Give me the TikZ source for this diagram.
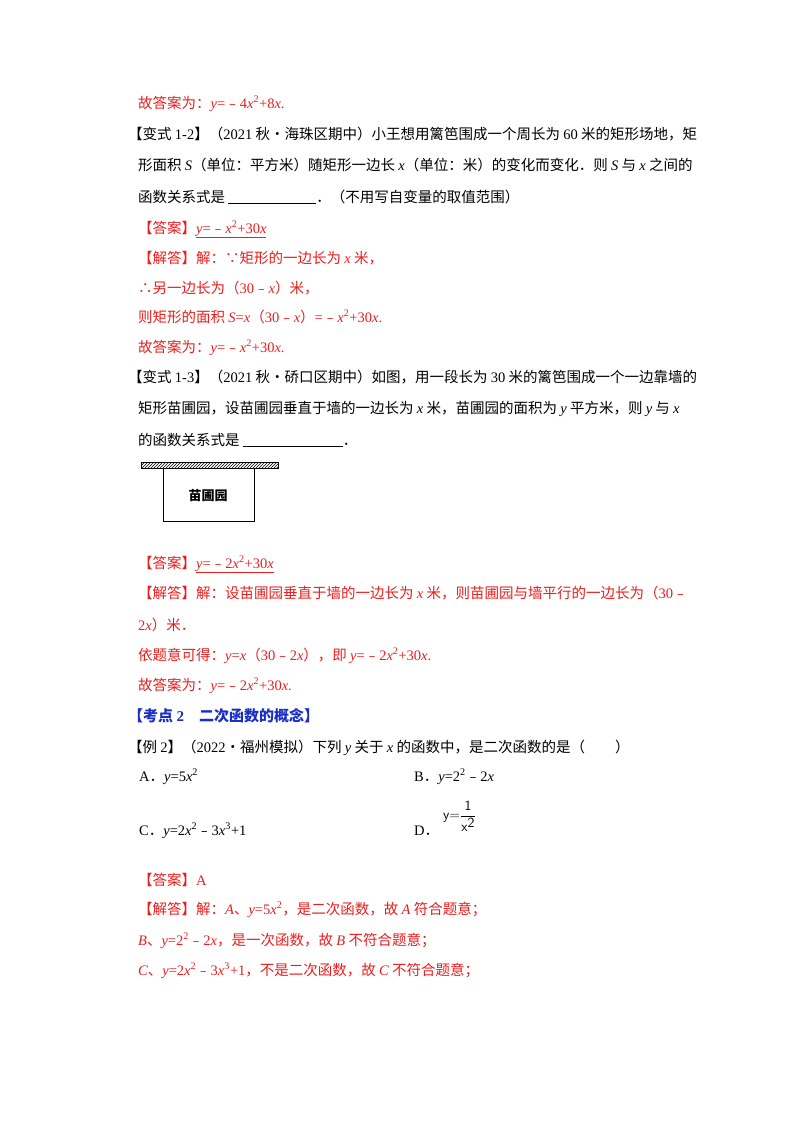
\documentclass[tikz,border=0pt]{standalone}
\usepackage{fontspec}
\setmainfont{Noto Sans CJK SC}
\newfontfamily\sr{Liberation Serif}
\usetikzlibrary{patterns}
\newcommand\iv[1]{{\sr\itshape #1}}
\newcommand\nm[1]{{\sr #1}}
\newcommand\ms{{\rmfamily ﹣}}
\newcommand\sq{\textsuperscript{\sr 2}}
\newcommand\cb{\textsuperscript{\sr 3}}
\definecolor{ans}{RGB}{235,30,30}
\definecolor{hd}{RGB}{25,45,200}
\begin{document}
\begin{tikzpicture}[x=1pt,y=-1pt,
  t/.style={anchor=base west,inner sep=0pt,font=\fontsize{14.5}{17}\selectfont},
  r/.style={t,text=ans}]
\useasboundingbox (0,0) rectangle (800,1132);
\fill[white] (0,0) rectangle (800,1132);
\node[r] (l1) at (138,108) {故答案为：\iv{y}\nm{=}\ms\nm{4}\iv{x}\sq\nm{+8}\iv{x}\nm{.}};
\node[t] (l2) at (128,139) {【变式 \nm{1-2}】（\nm{2021} 秋•海珠区期中）小王想用篱笆围成一个周长为 \nm{60} 米的矩形场地，矩};
\node[t] (l3) at (138,170) {形面积 \iv{S}（单位：平方米）随矩形一边长 \iv{x}（单位：米）的变化而变化．则 \iv{S} 与 \iv{x} 之间的};
\node[t] (l4) at (138,202) {函数关系式是 \underline{\hspace{88pt}}．（不用写自变量的取值范围）};
\node[r] (l5) at (138,233) {【答案】\underline{\iv{y}\nm{=}\ms\iv{x}\sq\nm{+30}\iv{x}}};
\node[r] (l6) at (138,263) {【解答】解：∵矩形的一边长为 \iv{x} 米，};
\node[r] (l7) at (138,293) {∴另一边长为（\nm{30}\ms\iv{x}）米，};
\node[r] (l8) at (138,322) {则矩形的面积 \iv{S}\nm{=}\iv{x}（\nm{30}\ms\iv{x}）\nm{=}\ms\iv{x}\sq\nm{+30}\iv{x}\nm{.}};
\node[r] (l9) at (138,352) {故答案为：\iv{y}\nm{=}\ms\iv{x}\sq\nm{+30}\iv{x}\nm{.}};
\node[t] (m1) at (128,382) {【变式 \nm{1-3}】（\nm{2021} 秋•硚口区期中）如图，用一段长为 \nm{30} 米的篱笆围成一个一边靠墙的};
\node[t] (m2) at (138,413) {矩形苗圃园，设苗圃园垂直于墙的一边长为 \iv{x} 米，苗圃园的面积为 \iv{y} 平方米，则 \iv{y} 与 \iv{x}};
\node[t] (m3) at (138,445) {的函数关系式是 \underline{\hspace{100pt}}．};
\fill[pattern=north east lines] (141,462) rectangle (278,468);
\draw[thick] (141,462) rectangle (278,468);
\draw[thick] (163,468) -- (163,521) -- (254,521) -- (254,468);
\node[font=\fontsize{13}{15}\selectfont\bfseries] (garden) at (208,496) {苗圃园};
\node[r] (m4) at (138,568) {【答案】\underline{\iv{y}\nm{=}\ms\nm{2}\iv{x}\sq\nm{+30}\iv{x}}};
\node[r] (m5) at (138,598) {【解答】解：设苗圃园垂直于墙的一边长为 \iv{x} 米，则苗圃园与墙平行的一边长为（\nm{30}\ms};
\node[r] (m6) at (138,630) {\nm{2}\iv{x}）米．};
\node[r] (m7) at (138,660) {依题意可得：\iv{y}\nm{=}\iv{x}（\nm{30}\ms\nm{2}\iv{x}），即 \iv{y}\nm{=}\ms\nm{2}\iv{x}\sq\nm{+30}\iv{x}\nm{.}};
\node[r] (m8) at (138,690) {故答案为：\iv{y}\nm{=}\ms\nm{2}\iv{x}\sq\nm{+30}\iv{x}\nm{.}};
\node[t,text=hd,font=\fontsize{15}{17}\selectfont\bfseries] (h) at (128,721) {【考点 \nm{\bfseries 2}\quad 二次函数的概念】};
\node[t] (e1) at (128,752) {【例 \nm{2}】（\nm{2022}•福州模拟）下列 \iv{y} 关于 \iv{x} 的函数中，是二次函数的是（\hspace{30pt}）};
\node[t] (oa) at (139,781) {\nm{A}．\iv{y}\nm{=5}\iv{x}\sq};
\node[t] (ob) at (414,781) {\nm{B}．\iv{y}\nm{=2}\sq\ms\nm{2}\iv{x}};
\node[t] (oc) at (139,835) {\nm{C}．\iv{y}\nm{=2}\iv{x}\sq\ms\nm{3}\iv{x}\cb\nm{+1}};
\node[t] (od) at (414,835) {\nm{D}．};
\node[anchor=west,inner sep=0pt,font=\fontsize{14}{16}\selectfont\sffamily] (df) at (443,816) {y=$\displaystyle\frac{\textsf{1}}{\textsf{x}^{\textsf{2}}}$};
\node[r] (a1) at (138,885) {【答案】\nm{A}};
\node[r] (a2) at (138,914) {【解答】解：\iv{A}、\iv{y}\nm{=5}\iv{x}\sq，是二次函数，故 \iv{A} 符合题意；};
\node[r] (a3) at (138,945) {\iv{B}、\iv{y}\nm{=2}\sq\ms\nm{2}\iv{x}，是一次函数，故 \iv{B} 不符合题意；};
\node[r] (a4) at (138,975) {\iv{C}、\iv{y}\nm{=2}\iv{x}\sq\ms\nm{3}\iv{x}\cb\nm{+1}，不是二次函数，故 \iv{C} 不符合题意；};
\end{tikzpicture}
\end{document}
